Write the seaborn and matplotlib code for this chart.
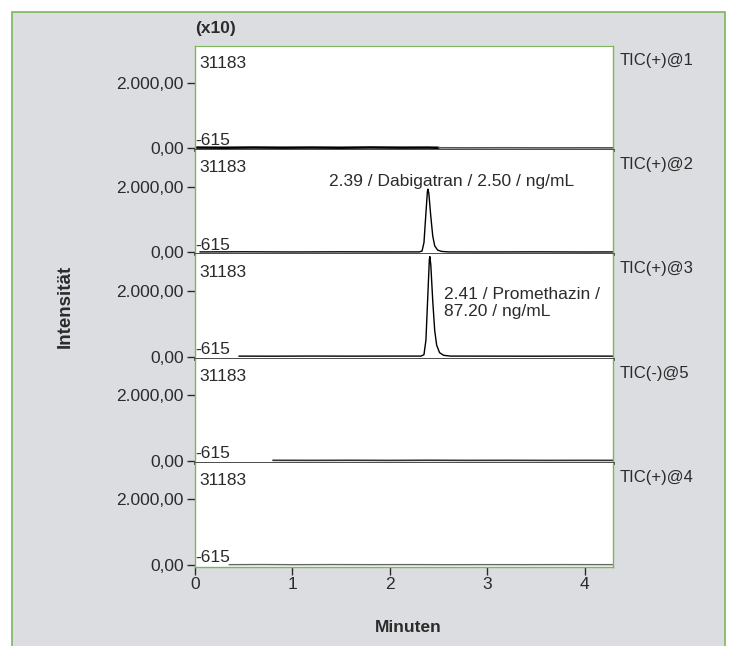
import matplotlib
matplotlib.use("Agg")
import matplotlib.pyplot as plt
import seaborn as sns
import pandas as pd
from matplotlib.patches import Rectangle

# Spuren-Beschriftungen und Skala (Intensitaet in x10)
trace_labels = ["TIC(+)@1", "TIC(+)@2", "TIC(+)@3", "TIC(-)@5", "TIC(+)@4"]
y_max_label = "31183"
y_min_label = "-615"
y_top = 3118.3
y_bottom = -61.5
y_ticks = [0, 2000]
y_ticklabels = ["0,00", "2.000,00"]
x_ticks = [0, 1, 2, 3, 4]
x_max = 4.29

# TIC(+)@1 - nur Grundlinie
t_tic1 = [0.02, 0.3, 0.6, 0.9, 1.2, 1.5, 1.8, 2.1, 2.4, 2.5, 2.8, 3.2, 3.6, 4.0, 4.29]
i_tic1 = [18, 14, 20, 15, 19, 14, 22, 16, 18, 12, 10, 12, 9, 11, 10]

# TIC(+)@2 - Dabigatran-Peak bei 2.39 min
t_tic2 = [0.05, 0.5, 1.0, 1.5, 2.0, 2.30, 2.33, 2.35, 2.37, 2.385, 2.39, 2.40, 2.42,
          2.44, 2.46, 2.49, 2.53, 2.60, 3.0, 3.5, 4.0, 4.29]
i_tic2 = [14, 18, 13, 17, 14, 15, 40, 300, 1200, 1850, 1930, 1800, 1100,
          500, 200, 70, 30, 15, 13, 16, 12, 14]

# TIC(+)@3 - Promethazin-Peak bei 2.41 min
t_tic3 = [0.45, 0.8, 1.2, 1.6, 2.0, 2.32, 2.35, 2.37, 2.39, 2.405, 2.41, 2.42, 2.44,
          2.46, 2.48, 2.51, 2.55, 2.62, 3.0, 3.5, 4.0, 4.29]
i_tic3 = [14, 12, 16, 13, 15, 15, 60, 500, 1900, 2950, 3050, 2800, 1700,
          800, 350, 120, 40, 15, 14, 12, 15, 13]

# TIC(-)@5 - nur Grundlinie
t_tic5 = [0.8, 1.2, 1.6, 2.0, 2.4, 2.8, 3.2, 3.6, 4.0, 4.29]
i_tic5 = [14, 12, 15, 11, 16, 12, 14, 11, 13, 12]

# TIC(+)@4 - nur Grundlinie
t_tic4 = [0.35, 0.7, 1.0, 1.4, 1.8, 2.2, 2.6, 3.0, 3.4, 3.8, 4.29]
i_tic4 = [10, 14, 9, 13, 10, 12, 9, 11, 10, 12, 10]

peak_texts = ["2.39 / Dabigatran / 2.50 / ng/mL", "2.41 / Promethazin /\n87.20 / ng/mL"]

traces = [(t_tic1, i_tic1), (t_tic2, i_tic2), (t_tic3, i_tic3), (t_tic5, i_tic5), (t_tic4, i_tic4)]

sns.set_style("white")
plt.rcParams["font.family"] = ["Liberation Sans", "DejaVu Sans"]

green = "#7cb65c"
dark = "#2b2b2b"
W, H = 729, 646

fig = plt.figure(figsize=(W / 100, H / 100), dpi=100)
fig.patch.set_facecolor("white")
fig.patches.append(Rectangle((12 / W, -0.02), (725 - 12) / W, 1.02 - 12 / H,
                             transform=fig.transFigure, facecolor="#dcdde0",
                             edgecolor=green, linewidth=1.2, zorder=-10))

axes = fig.subplots(5, 1, sharex=True, gridspec_kw={"hspace": 0})
fig.subplots_adjust(left=195 / W, right=613 / W, top=1 - 46 / H, bottom=1 - 567 / H)

for k, (ax, (t, i)) in enumerate(zip(axes, traces)):
    ax.set_facecolor("white")
    df = pd.DataFrame({"t": t, "i": i})
    if k == 0:
        sns.lineplot(data=df[df.t <= 2.5], x="t", y="i", ax=ax, color="black", linewidth=1.8)
        sns.lineplot(data=df[df.t >= 2.5], x="t", y="i", ax=ax, color="#555555", linewidth=1.2)
    elif k == 3:
        sns.lineplot(data=df, x="t", y="i", ax=ax, color="#333333", linewidth=1.2)
    elif k == 4:
        sns.lineplot(data=df, x="t", y="i", ax=ax, color="#666666", linewidth=1.0)
    else:
        sns.lineplot(data=df, x="t", y="i", ax=ax, color="black", linewidth=1.0)
    ax.set_ylim(y_bottom, y_top)
    ax.set_xlim(0, x_max)
    ax.set_yticks(y_ticks)
    ax.set_yticklabels(y_ticklabels)
    ax.set_xlabel("")
    ax.set_ylabel("")
    ax.tick_params(axis="y", direction="out", length=6, width=1, color=dark,
                   labelsize=12.5, labelcolor=dark, pad=2, left=True)
    for side in ["left", "right"]:
        ax.spines[side].set_color(green)
        ax.spines[side].set_linewidth(1.0)
    ax.spines["top"].set_visible(k == 0)
    ax.spines["top"].set_color(green)
    if k < 4:
        ax.spines["bottom"].set_color("#3a3a3a")
        ax.spines["bottom"].set_linewidth(2.0)
        ax.tick_params(axis="x", bottom=False, labelbottom=False)
    else:
        ax.spines["bottom"].set_color(green)
        ax.spines["bottom"].set_linewidth(1.0)
        ax.set_xticks(x_ticks)
        ax.tick_params(axis="x", direction="out", length=6, width=1, color=dark,
                       labelsize=12.5, labelcolor=dark, pad=1, bottom=True)
    ax.text(0.01, 0.83, y_max_label, transform=ax.transAxes, fontsize=12.5,
            color=dark, ha="left", va="center")
    ax.text(0.0, 0.09, y_min_label, transform=ax.transAxes, fontsize=12.5,
            color=dark, ha="left", va="center")
    ax.text(1.017, 0.86, trace_labels[k], transform=ax.transAxes, fontsize=12,
            color=dark, ha="left", va="center")

axes[1].text(2.63, 2150, peak_texts[0], fontsize=12.5, color=dark, ha="center", va="center")
axes[2].text(2.56, 1630, peak_texts[1], fontsize=12.5, color=dark, ha="left", va="center",
             linespacing=1.15)

fig.text(195 / W, 1 - 28 / H, "(x10)", fontsize=12.5, fontweight="bold", color=dark,
         ha="left", va="center")
fig.text(65 / W, 1 - 306 / H, "Intensität", fontsize=13.5, fontweight="bold", color=dark,
         rotation=90, ha="center", va="center")
fig.text(408 / W, 1 - 628 / H, "Minuten", fontsize=12.5, fontweight="bold", color=dark,
         ha="center", va="center")

fig.savefig("out.png", dpi=100)
